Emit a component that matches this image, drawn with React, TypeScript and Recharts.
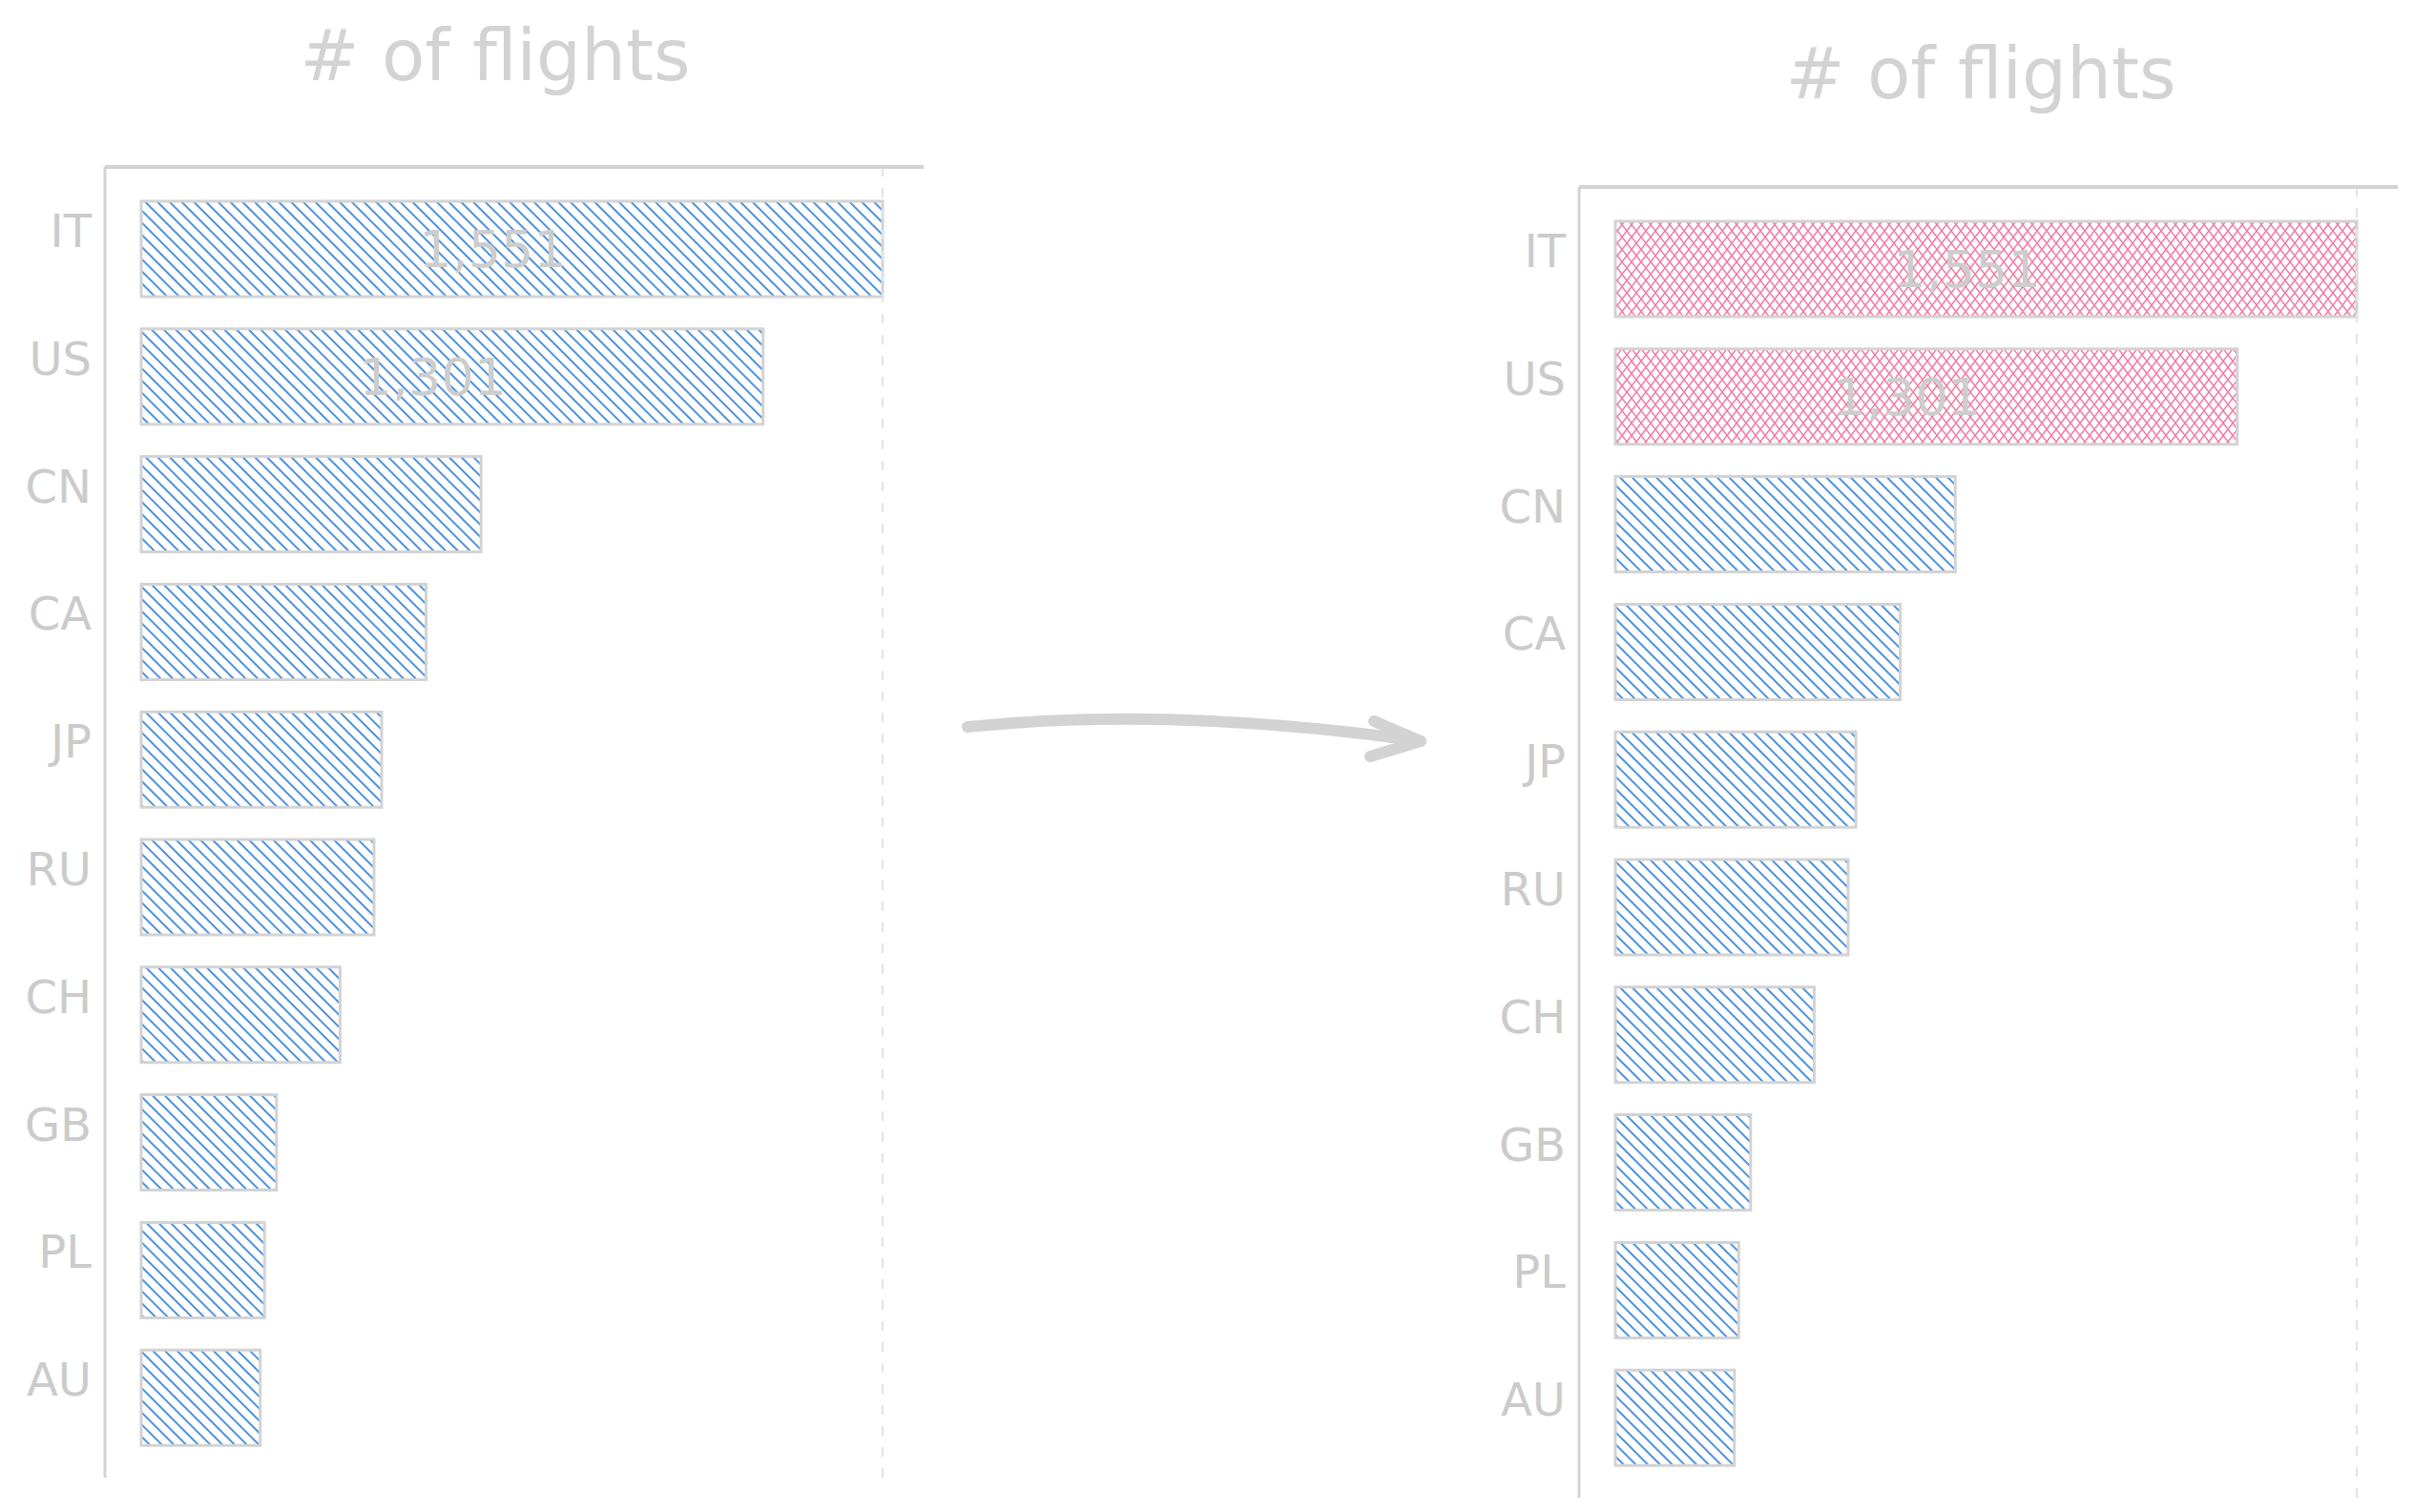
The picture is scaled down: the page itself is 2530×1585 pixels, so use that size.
import React from 'react';
import { BarChart, Bar, XAxis, YAxis, Cell, LabelList, ReferenceLine } from 'recharts';

// data
const countries = ['IT', 'US', 'CN', 'CA', 'JP', 'RU', 'CH', 'GB', 'PL', 'AU'];
const flights = [1551, 1301, 711, 596, 503, 487, 416, 283, 258, 249];
const labelledCountries = ['IT', 'US'];
const highlightedCountries = ['IT', 'US'];
const chartTitle = '# of flights';

const INK = '#d3d3d3';
const FONT = '"DejaVu Sans", sans-serif';
const maxFlights = Math.max(...flights);

const rows = countries.map((country, i) => ({
  country,
  flights: flights[i],
  label: labelledCountries.includes(country) ? flights[i].toLocaleString('en-US') : null,
}));

const CountryTick = (props: any) => {
  const { x, y, payload } = props;
  return (
    <text x={x} y={y - 2} textAnchor="end" fill="#cbcbcb" fontSize={48} fontFamily={FONT}>
      {payload.value}
    </text>
  );
};

interface FlightsChartProps {
  left: number;
  top: number;
  highlight: string[];
}

const FlightsChart: React.FC<FlightsChartProps> = ({ left, top, highlight }) => (
  <div style={{ position: 'absolute', left, top }}>
    <BarChart
      width={1000}
      height={1585}
      data={rows}
      layout="vertical"
      margin={{ top: 174, right: 32, bottom: 36, left: 0 }}
      barCategoryGap={0}
    >
      <XAxis
        type="number"
        orientation="top"
        domain={[0, maxFlights]}
        padding={{ left: 38, right: 43 }}
        height={1}
        tick={false}
        tickLine={false}
        axisLine={{ stroke: INK, strokeWidth: 4 }}
      />
      <YAxis
        type="category"
        dataKey="country"
        width={110}
        padding={{ top: 19, bottom: 17 }}
        interval={0}
        tickLine={false}
        tickSize={0}
        tickMargin={14}
        tick={<CountryTick />}
        axisLine={{ stroke: INK, strokeWidth: 3 }}
      />
      <ReferenceLine x={maxFlights} stroke="#e3e3e3" strokeWidth={2} strokeDasharray="10 12" />
      <Bar dataKey="flights" barSize={100} stroke={INK} strokeWidth={3} isAnimationActive={false}>
        {rows.map((r) => (
          <Cell
            key={r.country}
            fill={highlight.includes(r.country) ? 'url(#hatch-pink)' : 'url(#hatch-blue)'}
          />
        ))}
        <LabelList
          dataKey="label"
          position="center"
          dx={-20}
          fill="#cdcdcd"
          fontSize={54}
          fontFamily={FONT}
        />
      </Bar>
    </BarChart>
  </div>
);

export default function App() {
  return (
    <div
      style={{
        position: 'absolute',
        left: 0,
        top: 0,
        width: 2530,
        height: 1585,
        overflow: 'hidden',
        background: '#fff',
      }}
    >
      <svg width={2530} height={1585} style={{ position: 'absolute', left: 0, top: 0 }}>
        <defs>
          <pattern
            id="hatch-blue"
            patternUnits="userSpaceOnUse"
            width={9}
            height={9}
            patternTransform="rotate(-45)"
          >
            <line x1={3} y1={0} x2={3} y2={9} stroke="#3a86d8" strokeWidth={1.8} />
          </pattern>
          <pattern id="hatch-pink" patternUnits="userSpaceOnUse" width={10} height={13}>
            <path d="M0 0 L10 13 M10 0 L0 13" stroke="#f27aa6" strokeWidth={1.5} fill="none" />
          </pattern>
        </defs>
        <text x={519} y={84} textAnchor="middle" fill={INK} fontSize={74} fontFamily={FONT}>
          {chartTitle}
        </text>
        <text x={2076} y={103} textAnchor="middle" fill={INK} fontSize={74} fontFamily={FONT}>
          {chartTitle}
        </text>
        {/* arrow between the two versions */}
        <g stroke={INK} strokeWidth={12} strokeLinecap="round" strokeLinejoin="round" fill="none">
          <path d="M1014 762 Q1230 740 1489 777" />
          <path d="M1440 756 L1489 777 L1436 793" />
        </g>
      </svg>
      <FlightsChart left={0} top={0} highlight={[]} />
      <FlightsChart left={1545} top={21} highlight={highlightedCountries} />
    </div>
  );
}
